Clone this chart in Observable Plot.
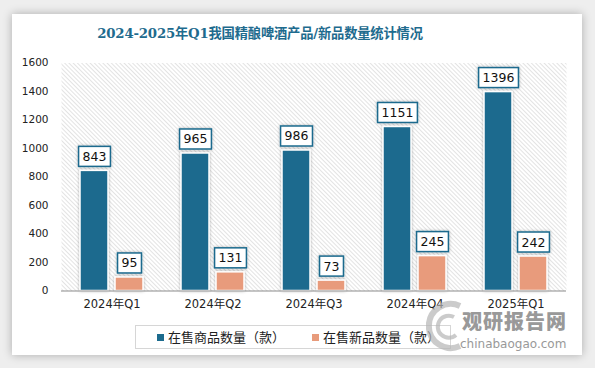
<!DOCTYPE html>
<html>
<head>
<meta charset="utf-8">
<script src="https://cdn.jsdelivr.net/npm/d3@7"></script>
<script src="https://cdn.jsdelivr.net/npm/@observablehq/plot@0.6"></script>
<style>
  html, body { margin: 0; padding: 0; }
  body { width: 595px; height: 368px; background: #eeeeee; position: relative; overflow: hidden; font-family: "DejaVu Sans", "Noto Sans CJK SC", sans-serif; }
  #card { position: absolute; left: 12px; top: 14px; width: 570px; height: 341px; background: #fff; box-shadow: 0 0 9px rgba(0,0,0,0.28); }
  #title { position: absolute; left: 0; width: 520px; top: 23px; text-align: center; font-family: "DejaVu Serif", "Noto Sans CJK SC", serif; font-weight: bold; font-size: 13.3px; color: #1e6b8e; letter-spacing: -0.2px; }
  #chart { position: absolute; left: 0; top: 50px; }
  #legend { position: absolute; left: 135px; top: 325px; width: 314px; height: 22px; border: 1px solid #d6d6d6; font-family: "Noto Sans CJK SC", sans-serif; font-size: 13px; color: #222; }
  .li { position: absolute; top: 2px; line-height: 18px; white-space: nowrap; }
  .sw { display: inline-block; width: 7px; height: 7px; margin-right: 4px; vertical-align: 1px; }
  #wm1 { position: absolute; left: 462px; top: 309px; font-family: "Noto Sans CJK SC", sans-serif; font-weight: 900; font-size: 20px; line-height: 24px; color: #999999; letter-spacing: 1px; }
  #wm2 { position: absolute; left: 460px; top: 337px; font-family: "DejaVu Sans", sans-serif; font-size: 12px; color: #999999; }
  #logo { position: absolute; left: 426px; top: 298px; }
</style>
</head>
<body>
<div id="card"></div>
<div id="title">2024-2025年Q1我国精酿啤酒产品/新品数量统计情况</div>
<div id="chart"></div>
<div id="legend"></div>
<svg id="logo" width="40" height="56"><path d="M34 8 A22 22 0 1 0 34 48" fill="none" stroke="#b5b5b5" stroke-width="6" opacity="0.7"/><path d="M28 19 A11 11 0 1 0 30 37" fill="none" stroke="#b5b5b5" stroke-width="4" opacity="0.7"/></svg>
<div id="wm1">观研报告网</div>
<div id="wm2">chinabaogao.com</div>
<script>
const quarters = ["2024年Q1", "2024年Q2", "2024年Q3", "2024年Q4", "2025年Q1"];
const onSale = [843, 965, 986, 1151, 1396];
const newProducts = [95, 131, 73, 245, 242];
const seriesNames = ["在售商品数量（款）", "在售新品数量（款）"];
const seriesColors = ["#1c6b8e", "#e89b7b"];
const yTicks = [0, 200, 400, 600, 800, 1000, 1200, 1400, 1600];

const blueData = quarters.map((q, i) => ({q, v: onSale[i]}));
const orangeData = quarters.map((q, i) => ({q, v: newProducts[i]}));

const plot = Plot.plot({
  width: 595,
  height: 270,
  marginLeft: 61,
  marginRight: 29,
  marginTop: 12.5,
  marginBottom: 29.5,
  style: {fontFamily: "'DejaVu Sans', 'Noto Sans CJK SC', sans-serif", fontSize: "11.5px", color: "#222", background: "transparent", overflow: "visible"},
  x: {domain: quarters, padding: 0, label: null, tickSize: 0, tickPadding: 9},
  y: {domain: [0, 1600], ticks: yTicks, tickFormat: d => String(d), label: null, tickSize: 0, tickPadding: 13},
  marks: [
    Plot.frame({fill: "url(#hatch)", stroke: "none"}),
    Plot.barY(blueData, {x: "q", y: "v", fill: seriesColors[0], stroke: "#fff", strokeWidth: 1.5, insetLeft: 19, insetRight: 54}),
    Plot.barY(orangeData, {x: "q", y: "v", fill: seriesColors[1], stroke: "#fff", strokeWidth: 1.5, insetLeft: 54, insetRight: 19}),
    Plot.ruleY([0], {stroke: "#8c8c8c", strokeWidth: 1.2}),
    Plot.text(blueData, {x: "q", y: "v", text: d => String(d.v), dx: -17.5, dy: -14, fontSize: 12.5, fill: "#111"}),
    Plot.text(orangeData, {x: "q", y: "v", text: d => String(d.v), dx: 17.5, dy: -14, fontSize: 12.5, fill: "#111"})
  ]
});

document.getElementById("chart").appendChild(plot);

const svg = d3.select(plot);
svg.selectAll("g[aria-label='y-axis tick label'] text").style("font-size", "10.5px");

const defs = svg.insert("defs", ":first-child");
const pat = defs.append("pattern").attr("id", "hatch").attr("patternUnits", "userSpaceOnUse")
  .attr("width", 3).attr("height", 3).attr("patternTransform", "rotate(-45)");
pat.append("rect").attr("width", 3).attr("height", 3).attr("fill", "#ffffff");
pat.append("line").attr("x1", 0).attr("y1", 0).attr("x2", 0).attr("y2", 3).attr("stroke", "#d4d4d4").attr("stroke-width", 1.3);
const f = defs.append("filter").attr("id", "shadow").attr("x", "-30%").attr("y", "-30%").attr("width", "160%").attr("height", "160%");
f.append("feDropShadow").attr("dx", 0).attr("dy", 0).attr("stdDeviation", 1.6).attr("flood-color", "#000").attr("flood-opacity", 0.3);

svg.selectAll("g[aria-label='bar']").attr("filter", "url(#shadow)");

// boxes behind value labels
svg.selectAll("g[aria-label='text']").each(function() {
  d3.select(this).selectAll("text").each(function() {
    const b = this.getBBox();
    const t = this.getAttribute("transform");
    const r = document.createElementNS("http://www.w3.org/2000/svg", "rect");
    r.setAttribute("x", b.x - 4);
    r.setAttribute("y", b.y + b.height / 2 - 10);
    r.setAttribute("width", b.width + 8);
    r.setAttribute("height", 20);
    r.setAttribute("fill", "#fff");
    r.setAttribute("stroke", "#1c6b8e");
    r.setAttribute("stroke-width", 1.5);
    r.setAttribute("filter", "url(#shadow)");
    if (t) r.setAttribute("transform", t);
    this.parentNode.insertBefore(r, this);
  });
});

const legend = document.getElementById("legend");
const lx = [21, 176];
seriesNames.forEach((name, i) => {
  const d = document.createElement("div");
  d.className = "li";
  d.style.left = lx[i] + "px";
  d.innerHTML = `<span class="sw" style="background:${seriesColors[i]}"></span>${name}`;
  legend.appendChild(d);
});
</script>
</body>
</html>
